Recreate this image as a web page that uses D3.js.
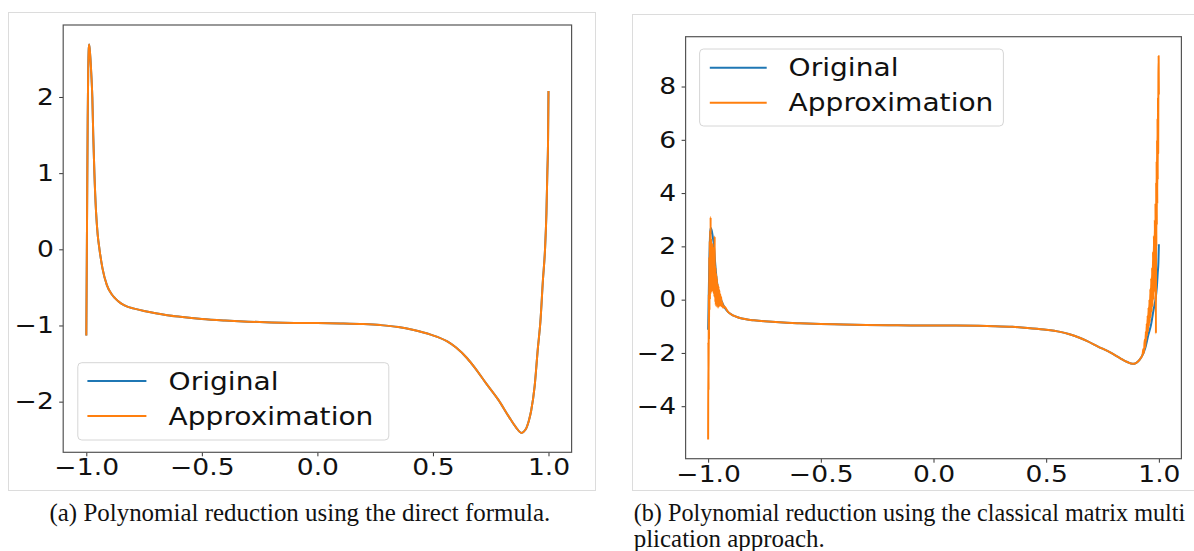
<!DOCTYPE html>
<html>
<head>
<meta charset="utf-8">
<script src="https://cdn.jsdelivr.net/npm/d3@7"></script>
<style>
  body { margin: 0; background: #fff; }
  svg { display: block; }
  .tick text { font-family: "DejaVu Sans", sans-serif; fill: #111; }
  .caption { font-family: "Liberation Serif", "DejaVu Serif", serif; fill: #111; }
</style>
</head>
<body>
<svg width="1194" height="551"></svg>
<script>
// data
var xTicks = [-1, -0.5, 0, 0.5, 1];
var yTicksA = [-2, -1, 0, 1, 2];
var yTicksB = [-4, -2, 0, 2, 4, 6, 8];
var seriesNames = ["Original", "Approximation"];

var originalX = [-1.0, -0.998, -0.996, -0.994, -0.992, -0.990, -0.988, -0.985, -0.981, -0.977,
    -0.974, -0.970, -0.965, -0.958, -0.951, -0.943, -0.93, -0.911, -0.89, -0.875,
    -0.85, -0.82, -0.797, -0.75, -0.7, -0.65, -0.594, -0.5, -0.4, -0.3,
    -0.2, -0.1, 0.0, 0.1, 0.2, 0.272, 0.35, 0.417, 0.49, 0.562,
    0.6, 0.648, 0.68, 0.73, 0.784, 0.829, 0.86, 0.883, 0.9, 0.915,
    0.925, 0.94, 0.954, 0.965, 0.976, 0.985, 0.991, 0.995, 0.998, 1.0];
var originalY = [-1.13, -0.2, 0.8, 1.7, 2.3, 2.6, 2.69, 2.62, 2.45, 2.22,
    2.0, 1.5, 1.0, 0.5, 0.2, 0.0, -0.25, -0.47, -0.59, -0.644,
    -0.71, -0.755, -0.775, -0.81, -0.84, -0.865, -0.886, -0.915, -0.935, -0.95,
    -0.96, -0.966, -0.968, -0.973, -0.982, -0.995, -1.02, -1.06, -1.12, -1.21,
    -1.29, -1.43, -1.55, -1.76, -1.98, -2.2, -2.34, -2.41, -2.37, -2.25,
    -2.12, -1.8, -1.3, -0.95, -0.4, 0.0, 0.47, 1.0, 1.4, 2.08];

// panel (b): noisy approximation near both ends
var approxLeftX = [-1.000, -0.999, -0.998, -0.997, -0.996, -0.995, -0.994, -0.993, -0.992, -0.991,
    -0.990, -0.989, -0.988, -0.987, -0.986, -0.985, -0.984, -0.983, -0.982, -0.981,
    -0.980, -0.979, -0.978, -0.977, -0.976, -0.975, -0.974, -0.973, -0.972, -0.971,
    -0.970, -0.969, -0.968, -0.967, -0.966, -0.965, -0.964, -0.963, -0.962, -0.961,
    -0.960, -0.958, -0.956, -0.954, -0.952, -0.950, -0.948, -0.946, -0.944, -0.942,
    -0.940, -0.937, -0.934];
var approxLeftY = [-5.25, -1.6, -3.4, 0.2, -1.5, 1.6, -0.4, 2.2, 0.0, 2.6,
    0.2, 3.1, 0.4, 2.3, 0.3, 2.0, 0.5, 1.9, 0.3, 2.1,
    0.6, 1.7, 0.4, 1.8, 0.5, 1.5, 0.2, 2.0, 0.1, 2.37,
    0.3, 1.3, -0.1, 1.2, -0.2, 1.0, -0.25, 0.9, -0.2, 0.8,
    -0.15, 0.6, -0.3, 0.5, -0.2, 0.35, -0.25, 0.2, -0.2, 0.1,
    -0.25, -0.1, -0.3];
var approxRightX = [0.928, 0.931, 0.934, 0.937, 0.940, 0.942, 0.944, 0.946, 0.948, 0.950,
    0.952, 0.954, 0.956, 0.958, 0.960, 0.962, 0.964, 0.966, 0.968, 0.970,
    0.972, 0.974, 0.976, 0.978, 0.980, 0.982, 0.984, 0.985, 0.986, 0.987,
    0.988, 0.989, 0.990, 0.991, 0.992, 0.993, 0.994, 0.995, 0.996, 0.997,
    0.998, 0.999, 1.0];
var approxRightY = [-2.05, -1.85, -2.0, -1.5, -1.8, -1.2, -1.55, -0.9, -1.35, -0.6,
    -1.2, -0.3, -1.0, 0.0, -0.85, 0.4, -0.65, 0.8, -0.45, 1.2,
    -0.25, 1.8, 0.0, 2.4, 0.3, 3.0, 0.8, 3.6, 1.2, -1.27,
    4.4, 2.0, 5.2, 2.8, 6.0, 3.6, 6.8, 4.5, 7.6, 5.5,
    8.4, 9.15, 7.7];

var captionA = "(a) Polynomial reduction using the direct formula.";
var captionB1 = "(b) Polynomial reduction using the classical matrix multi";
var captionB2 = "plication approach.";

function zip(xs, ys) { return xs.map(function(x, i) { return {x: x, y: ys[i]}; }); }

var original = zip(originalX, originalY);
var approxB = zip(approxLeftX, approxLeftY)
    .concat(original.filter(function(d) { return d.x > -0.933 && d.x < 0.927; }))
    .concat(zip(approxRightX, approxRightY));

var colors = ["#1f77b4", "#ff7f0e"];
var svg = d3.select("svg");
svg.append("rect").attr("width", 1194).attr("height", 551).attr("fill", "#fff");

function drawPanel(p) {
    // outer figure frame
    svg.append("rect")
        .attr("x", p.frame[0] + 0.5).attr("y", p.frame[1] + 0.5)
        .attr("width", p.frame[2]).attr("height", p.frame[3])
        .attr("fill", "#fff").attr("stroke", "#dcdcdc");

    var all = p.series[0].concat(p.series[1]);
    var ext = d3.extent(all, function(d) { return d.y; });
    var r = ext[1] - ext[0];

    var x = d3.scaleLinear().domain([-1.1, 1.1]).range([p.left, p.right]);
    var y = d3.scaleLinear().domain([ext[0] - 0.05 * r, ext[1] + 0.05 * r]).range([p.bottom, p.top]);

    var clipId = "clip" + p.id;
    svg.append("clipPath").attr("id", clipId).append("rect")
        .attr("x", p.left).attr("y", p.top)
        .attr("width", p.right - p.left).attr("height", p.bottom - p.top);

    var line = d3.line()
        .x(function(d) { return x(d.x); })
        .y(function(d) { return y(d.y); })
        .curve(d3.curveMonotoneX);

    var g = svg.append("g").attr("clip-path", "url(#" + clipId + ")");
    p.series.forEach(function(s, i) {
        g.append("path").datum(s)
            .attr("d", line)
            .attr("fill", "none")
            .attr("stroke", colors[i])
            .attr("stroke-width", 2)
            .attr("stroke-linejoin", "round");
    });

    var xAxis = svg.append("g")
        .attr("transform", "translate(0," + p.bottom + ")")
        .call(d3.axisBottom(x).tickValues(xTicks).tickFormat(d3.format(".1f")).tickSize(4).tickPadding(3));
    var yAxis = svg.append("g")
        .attr("transform", "translate(" + p.left + ",0)")
        .call(d3.axisLeft(y).tickValues(p.yTicks).tickFormat(d3.format("d")).tickSize(4).tickPadding(4));

    [xAxis, yAxis].forEach(function(ax) {
        ax.select(".domain").remove();
        ax.selectAll(".tick line").attr("stroke", "#333");
        ax.selectAll(".tick text")
            .style("font-size", "22.5px")
            .attr("transform", "scale(1.18,1)");
    });

    // spines
    svg.append("rect")
        .attr("x", p.left).attr("y", p.top)
        .attr("width", p.right - p.left).attr("height", p.bottom - p.top)
        .attr("fill", "none").attr("stroke", "#555").attr("stroke-width", 1.2);

    // legend
    var L = p.legend;
    svg.append("rect")
        .attr("x", L.x).attr("y", L.y).attr("width", L.w).attr("height", L.h)
        .attr("rx", 4)
        .attr("fill", "#fff").attr("fill-opacity", 0.8)
        .attr("stroke", "#d6d6d6");
    seriesNames.forEach(function(name, i) {
        var ry = L.rows[i];
        svg.append("line")
            .attr("x1", L.h1).attr("x2", L.h2).attr("y1", ry).attr("y2", ry)
            .attr("stroke", colors[i]).attr("stroke-width", 2);
        svg.append("text")
            .attr("transform", "translate(" + L.tx + "," + ry + ") scale(1.17,1)")
            .attr("dy", "0.36em")
            .style("font-family", "'DejaVu Sans', sans-serif")
            .style("font-size", "24px")
            .attr("fill", "#111")
            .text(name);
    });
}

drawPanel({
    id: "a", frame: [8, 12, 587, 478],
    left: 63.2, right: 571.6, top: 25, bottom: 452.3,
    yTicks: yTicksA,
    series: [original, original],
    legend: {x: 77.8, y: 362.7, w: 311, h: 77.3, rows: [381, 416], h1: 87.4, h2: 146.4, tx: 168.6}
});

drawPanel({
    id: "b", frame: [632, 14, 600, 476],
    left: 685.6, right: 1181.4, top: 36.7, bottom: 458.7,
    yTicks: yTicksB,
    series: [original, approxB],
    legend: {x: 699.6, y: 49, w: 303.8, h: 77, rows: [67.7, 102.7], h1: 709.8, h2: 766.7, tx: 788.6}
});

// captions, sized so caption (a) spans its width in the picture
function fitCaption(str, x, y, width) {
    var t = svg.append("text").attr("class", "caption")
        .attr("x", x).attr("y", y).style("font-size", "18px").text(str);
    var size = 18 * width / t.node().getComputedTextLength();
    t.style("font-size", size + "px");
    return size;
}
var fs = fitCaption(captionA, 49.5, 521, 501);
fitCaption(captionB1, 633.7, 521, 552);
svg.append("text").attr("class", "caption")
    .attr("x", 633.7).attr("y", 547).style("font-size", fs + "px").text(captionB2);
</script>
</body>
</html>
